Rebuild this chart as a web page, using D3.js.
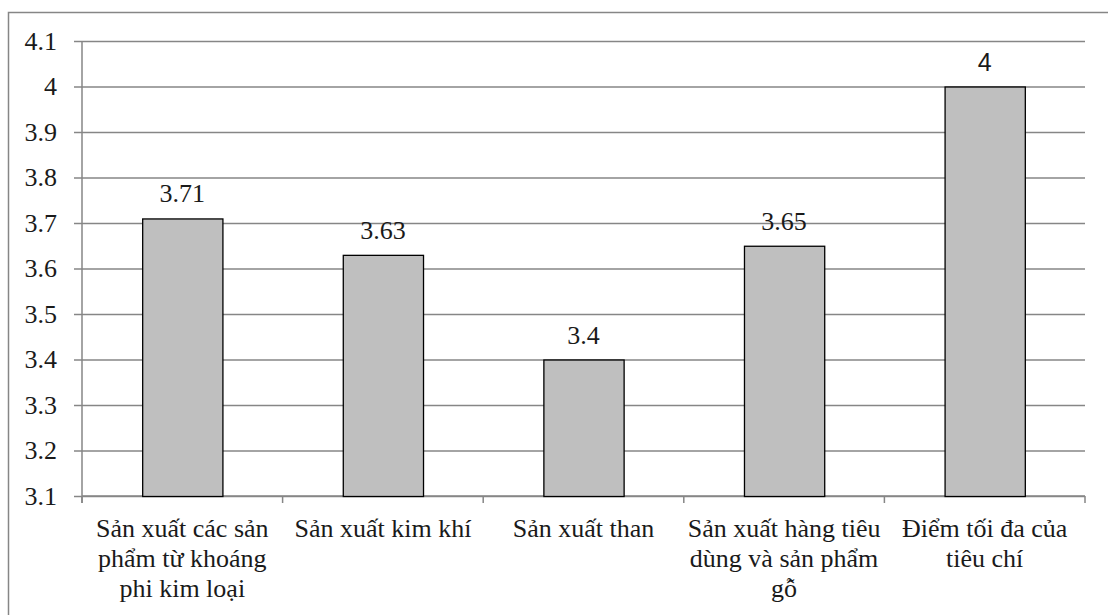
<!DOCTYPE html>
<html>
<head>
<meta charset="utf-8">
<script src="https://cdn.jsdelivr.net/npm/d3@7"></script>
<style>
  html, body { margin: 0; padding: 0; background: #fff; }
  svg { display: block; }
  svg text.serif { font-family: "Liberation Serif", "Times New Roman", serif !important; }
  svg text.sans { font-family: "Liberation Sans", Arial, sans-serif !important; }
</style>
</head>
<body>
<svg id="chart" width="1108" height="615"></svg>
<script>
const categories = [
  "Sản xuất các sản phẩm từ khoáng phi kim loại",
  "Sản xuất kim khí",
  "Sản xuất than",
  "Sản xuất hàng tiêu dùng và sản phẩm gỗ",
  "Điểm tối đa của tiêu chí"
];
const categoryLines = [
  ["Sản xuất các sản", "phẩm từ khoáng", "phi kim loại"],
  ["Sản xuất kim khí"],
  ["Sản xuất than"],
  ["Sản xuất hàng tiêu", "dùng và sản phẩm", "gỗ"],
  ["Điểm tối đa của", "tiêu chí"]
];
const values = [3.71, 3.63, 3.4, 3.65, 4];
const valueLabels = ["3.71", "3.63", "3.4", "3.65", "4"];
const yTicks = [3.1, 3.2, 3.3, 3.4, 3.5, 3.6, 3.7, 3.8, 3.9, 4, 4.1];
const yTickLabels = ["3.1", "3.2", "3.3", "3.4", "3.5", "3.6", "3.7", "3.8", "3.9", "4", "4.1"];

(function () {
const SERIF = "\"Liberation Serif\", \"Times New Roman\", serif";
const SANS = "\"Liberation Sans\", Arial, sans-serif";
const svg = d3.select("#chart");
const pL = 82, pR = 1085, pT = 41, pB = 496;
const gridColor = "#868686";

// outer border
svg.append("rect")
  .attr("x", 8.5).attr("y", 12.5).attr("width", 1120).attr("height", 620)
  .attr("fill", "none").attr("stroke", gridColor).attr("stroke-width", 1.5);

const y = d3.scaleLinear().domain([3.1, 4.1]).range([pB, pT]);
const x = d3.scaleBand().domain(categories).range([pL, pR])
  .paddingInner(0.6).paddingOuter(0.3);
const xb = d3.scaleBand().domain(categories).range([pL, pR]).padding(0);

// gridlines + y ticks
const yAxis = d3.axisLeft(y).tickValues(yTicks)
  .tickFormat((d, i) => yTickLabels[i])
  .tickSize(-(pR - pL)).tickSizeOuter(0).tickPadding(17);
const gy = svg.append("g").attr("transform", `translate(${pL},0)`).call(yAxis);
gy.attr("font-family", SERIF).attr("font-size", 26);
gy.select(".domain").remove();
gy.selectAll(".tick line").attr("stroke", gridColor).attr("stroke-width", 1.5)
  .attr("x1", -8);
gy.selectAll(".tick text").attr("class", "serif")
  .style("font-family", SERIF, "important").style("font-size", "26px")
  .attr("fill", "#1a1a1a").attr("x", -25);

// y axis line
svg.append("line").attr("x1", pL).attr("x2", pL).attr("y1", pT).attr("y2", pB + 7)
  .attr("stroke", gridColor).attr("stroke-width", 1.5);

// x axis line + ticks at category boundaries
svg.append("line").attr("x1", pL).attr("x2", pR).attr("y1", pB).attr("y2", pB)
  .attr("stroke", gridColor).attr("stroke-width", 1.5);
const boundaries = categories.map(c => xb(c)).concat([xb(categories[categories.length - 1]) + xb.bandwidth()]);
svg.append("g").selectAll("line").data(boundaries).join("line")
  .attr("x1", d => d).attr("x2", d => d).attr("y1", pB).attr("y2", pB + 7)
  .attr("stroke", gridColor).attr("stroke-width", 1.5);

// bars
svg.append("g").selectAll("rect").data(values).join("rect")
  .attr("x", (d, i) => x(categories[i]) + 0.5)
  .attr("y", d => y(d) + 0.5)
  .attr("width", x.bandwidth())
  .attr("height", d => y(3.1) - y(d))
  .attr("fill", "#bfbfbf").attr("stroke", "#000").attr("stroke-width", 1.3);

// value labels
svg.append("g").selectAll("text").data(values).join("text")
  .attr("x", (d, i) => x(categories[i]) + x.bandwidth() / 2)
  .attr("y", d => y(d) - 16)
  .attr("text-anchor", "middle")
  .attr("class", (d, i) => i === 4 ? "sans" : "serif")
  .style("font-family", (d, i) => i === 4 ? SANS : SERIF, "important")
  .style("font-size", (d, i) => i === 4 ? "25px" : "26px")
  .attr("fill", "#1a1a1a")
  .text((d, i) => valueLabels[i]);

// category labels
const cl = svg.append("g").selectAll("text").data(categoryLines).join("text")
  .attr("text-anchor", "middle")
  .attr("class", "serif")
  .style("font-family", SERIF, "important")
  .style("font-size", "26px").attr("fill", "#1a1a1a");
cl.each(function(lines, i) {
  const cx = xb(categories[i]) + xb.bandwidth() / 2;
  d3.select(this).selectAll("tspan").data(lines).join("tspan")
    .attr("x", cx).attr("y", (l, j) => 537 + j * 30).text(l => l);
});
})();
</script>
</body>
</html>
